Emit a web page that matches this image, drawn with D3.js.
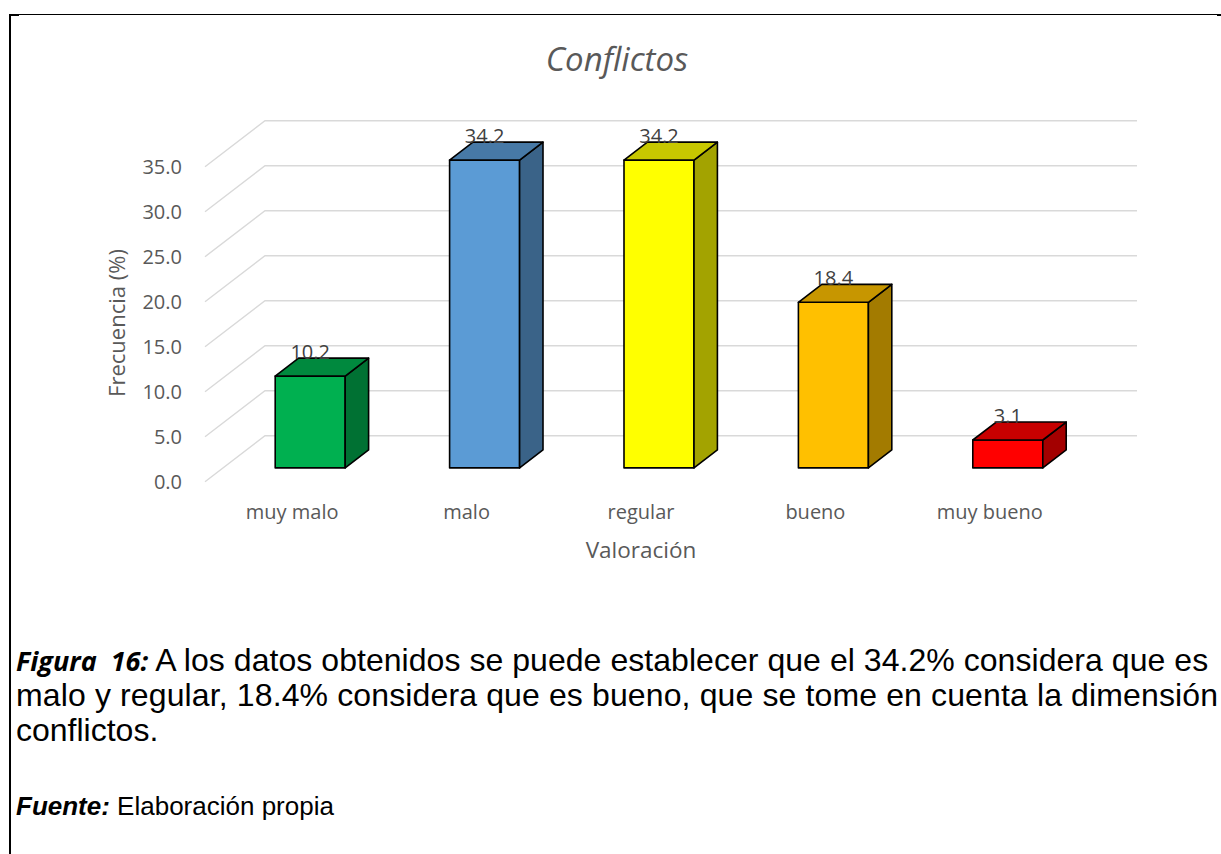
<!DOCTYPE html>
<html>
<head>
<meta charset="utf-8">
<script src="https://cdn.jsdelivr.net/npm/d3@7"></script>
<style>
  body { margin: 0; background: #fff; }
  svg { display: block; }
</style>
</head>
<body>
<svg width="1221" height="854"></svg>
<script>
// data
var categories = ["muy malo", "malo", "regular", "bueno", "muy bueno"];
var values = [10.2, 34.2, 34.2, 18.4, 3.1];
var barColors = ["#00B050", "#5B9BD5", "#FFFF00", "#FFC000", "#FF0000"];
var yTicks = [0, 5, 10, 15, 20, 25, 30, 35];

var svg = d3.select("svg"),
    width = +svg.attr("width"),
    height = +svg.attr("height");

var axisFont = "'Open Sans', sans-serif";

// fake 3d: front plane of the floor, pushed back by depth (dx, dy)
var depthX = 60, depthY = 46;

var x = d3.scaleBand()
    .domain(categories)
    .range([205, 1077])
    .paddingInner(0.5986)
    .paddingOuter(0.2993);

var y = d3.scaleLinear()
    .domain([0, 35])
    .range([481.7, 166.7]);

function project(px, v, z) {
    return [px + depthX * z, y(v) - depthY * z];
}

// frame around the figure
svg.append("line")
    .attr("x1", 9).attr("x2", 1219)
    .attr("y1", 14.5).attr("y2", 14.5)
    .attr("stroke", "#000").attr("stroke-width", 1);
svg.append("line")
    .attr("x1", 10).attr("x2", 10)
    .attr("y1", 14).attr("y2", height)
    .attr("stroke", "#000").attr("stroke-width", 2);
svg.append("line")
    .attr("x1", 9).attr("x2", 19)
    .attr("y1", 15).attr("y2", 15)
    .attr("stroke", "#000").attr("stroke-width", 2);
svg.append("line")
    .attr("x1", 1217).attr("x2", 1221)
    .attr("y1", 15).attr("y2", 15)
    .attr("stroke", "#000").attr("stroke-width", 2);

// title
svg.append("text")
    .attr("x", 617)
    .attr("y", 71)
    .attr("text-anchor", "middle")
    .style("font-family", axisFont)
    .style("font-style", "italic")
    .style("font-size", "33px")
    .style("fill", "#595959")
    .text("Conflictos");

// gridlines: diagonal on the side wall, then flat on the back wall
var grid = svg.append("g").attr("class", "grid");
grid.selectAll("path")
    .data(yTicks)
    .enter().append("path")
    .attr("fill", "none")
    .attr("stroke", "#d9d9d9")
    .attr("stroke-width", 1.4)
    .attr("d", function (d) {
        var a = project(205, d, 0),
            b = project(205, d, 1),
            c = project(1077, d, 1);
        return "M" + a + "L" + b + "L" + c;
    });

// y tick labels
svg.append("g")
    .selectAll("text")
    .data(yTicks)
    .enter().append("text")
    .attr("x", 182)
    .attr("y", function (d) { return y(d); })
    .attr("dy", "0.35em")
    .attr("text-anchor", "end")
    .style("font-family", axisFont)
    .style("font-size", "20px")
    .style("fill", "#595959")
    .text(function (d) { return d.toFixed(1); });

// bars
var z0 = 0.3, z1 = 0.69;

function shade(c, k) {
    var r = d3.rgb(c);
    return d3.rgb(r.r * k, r.g * k, r.b * k).formatHex();
}

var bar = svg.append("g")
    .attr("class", "bars")
    .selectAll("g")
    .data(categories.map(function (c, i) {
        return { cat: c, value: values[i], color: barColors[i] };
    }))
    .enter().append("g")
    .attr("stroke", "#000")
    .attr("stroke-width", 1.6)
    .attr("stroke-linejoin", "round");

// front face
bar.append("path")
    .attr("fill", function (d) { return d.color; })
    .attr("d", function (d) {
        var x0 = x(d.cat), x1 = x(d.cat) + x.bandwidth();
        return "M" + project(x0, 0, z0) + "L" + project(x1, 0, z0) +
            "L" + project(x1, d.value, z0) + "L" + project(x0, d.value, z0) + "Z";
    });

// right side
bar.append("path")
    .attr("fill", function (d) { return shade(d.color, 0.64); })
    .attr("d", function (d) {
        var x1 = x(d.cat) + x.bandwidth();
        return "M" + project(x1, 0, z0) + "L" + project(x1, 0, z1) +
            "L" + project(x1, d.value, z1) + "L" + project(x1, d.value, z0) + "Z";
    });

// top
bar.append("path")
    .attr("fill", function (d) { return shade(d.color, 0.78); })
    .attr("d", function (d) {
        var x0 = x(d.cat), x1 = x(d.cat) + x.bandwidth();
        return "M" + project(x0, d.value, z0) + "L" + project(x1, d.value, z0) +
            "L" + project(x1, d.value, z1) + "L" + project(x0, d.value, z1) + "Z";
    });

// data labels sit on the back edge of the top
svg.append("g")
    .selectAll("text")
    .data(values)
    .enter().append("text")
    .attr("x", function (d, i) { return project(x(categories[i]) + x.bandwidth() / 2, d, z0)[0]; })
    .attr("y", function (d) { return project(0, d, z1)[1] + 1; })
    .attr("text-anchor", "middle")
    .style("font-family", axisFont)
    .style("font-size", "20px")
    .style("fill", "#404040")
    .text(function (d) { return d.toFixed(1); });

// category labels
svg.append("g")
    .selectAll("text")
    .data(categories)
    .enter().append("text")
    .attr("x", function (d) { return x(d) + x.bandwidth() / 2; })
    .attr("y", 519)
    .attr("text-anchor", "middle")
    .style("font-family", axisFont)
    .style("font-size", "20px")
    .style("fill", "#595959")
    .text(function (d) { return d; });

// axis titles
svg.append("text")
    .attr("x", 641)
    .attr("y", 558)
    .attr("text-anchor", "middle")
    .style("font-family", axisFont)
    .style("font-size", "22.5px")
    .style("fill", "#595959")
    .text("Valoración");

svg.append("text")
    .attr("transform", "translate(125,323) rotate(-90)")
    .attr("text-anchor", "middle")
    .style("font-family", axisFont)
    .style("font-size", "22px")
    .style("fill", "#595959")
    .text("Frecuencia (%)");

// caption below the chart (first two lines justified to the frame)
var capFont = "'Liberation Sans', Arial, sans-serif";
var cap = svg.append("g")
    .style("font-family", capFont)
    .style("fill", "#000");

var line1 = cap.append("text").attr("x", 16).attr("y", 671).style("font-size", "32px");
line1.append("tspan")
    .style("font-family", "'Open Sans', sans-serif")
    .style("font-weight", "bold")
    .style("font-style", "italic")
    .style("font-size", "27px")
    .attr("xml:space", "preserve")
    .text("Figura  16:");
line1.append("tspan")
    .attr("textLength", 1060)
    .attr("lengthAdjust", "spacing")
    .text(" A los datos obtenidos se puede establecer que el 34.2% considera que es");

cap.append("text").attr("x", 16).attr("y", 706).style("font-size", "32px")
    .attr("textLength", 1202)
    .attr("lengthAdjust", "spacing")
    .text("malo y regular, 18.4% considera que es bueno, que se tome en cuenta la dimensión");
cap.append("text").attr("x", 16).attr("y", 741).style("font-size", "32px")
    .text("conflictos.");

var fuente = cap.append("text").attr("x", 16).attr("y", 815).style("font-size", "26px");
fuente.append("tspan")
    .style("font-weight", "bold")
    .style("font-style", "italic")
    .text("Fuente:");
fuente.append("tspan").text(" Elaboración propia");
</script>
</body>
</html>
